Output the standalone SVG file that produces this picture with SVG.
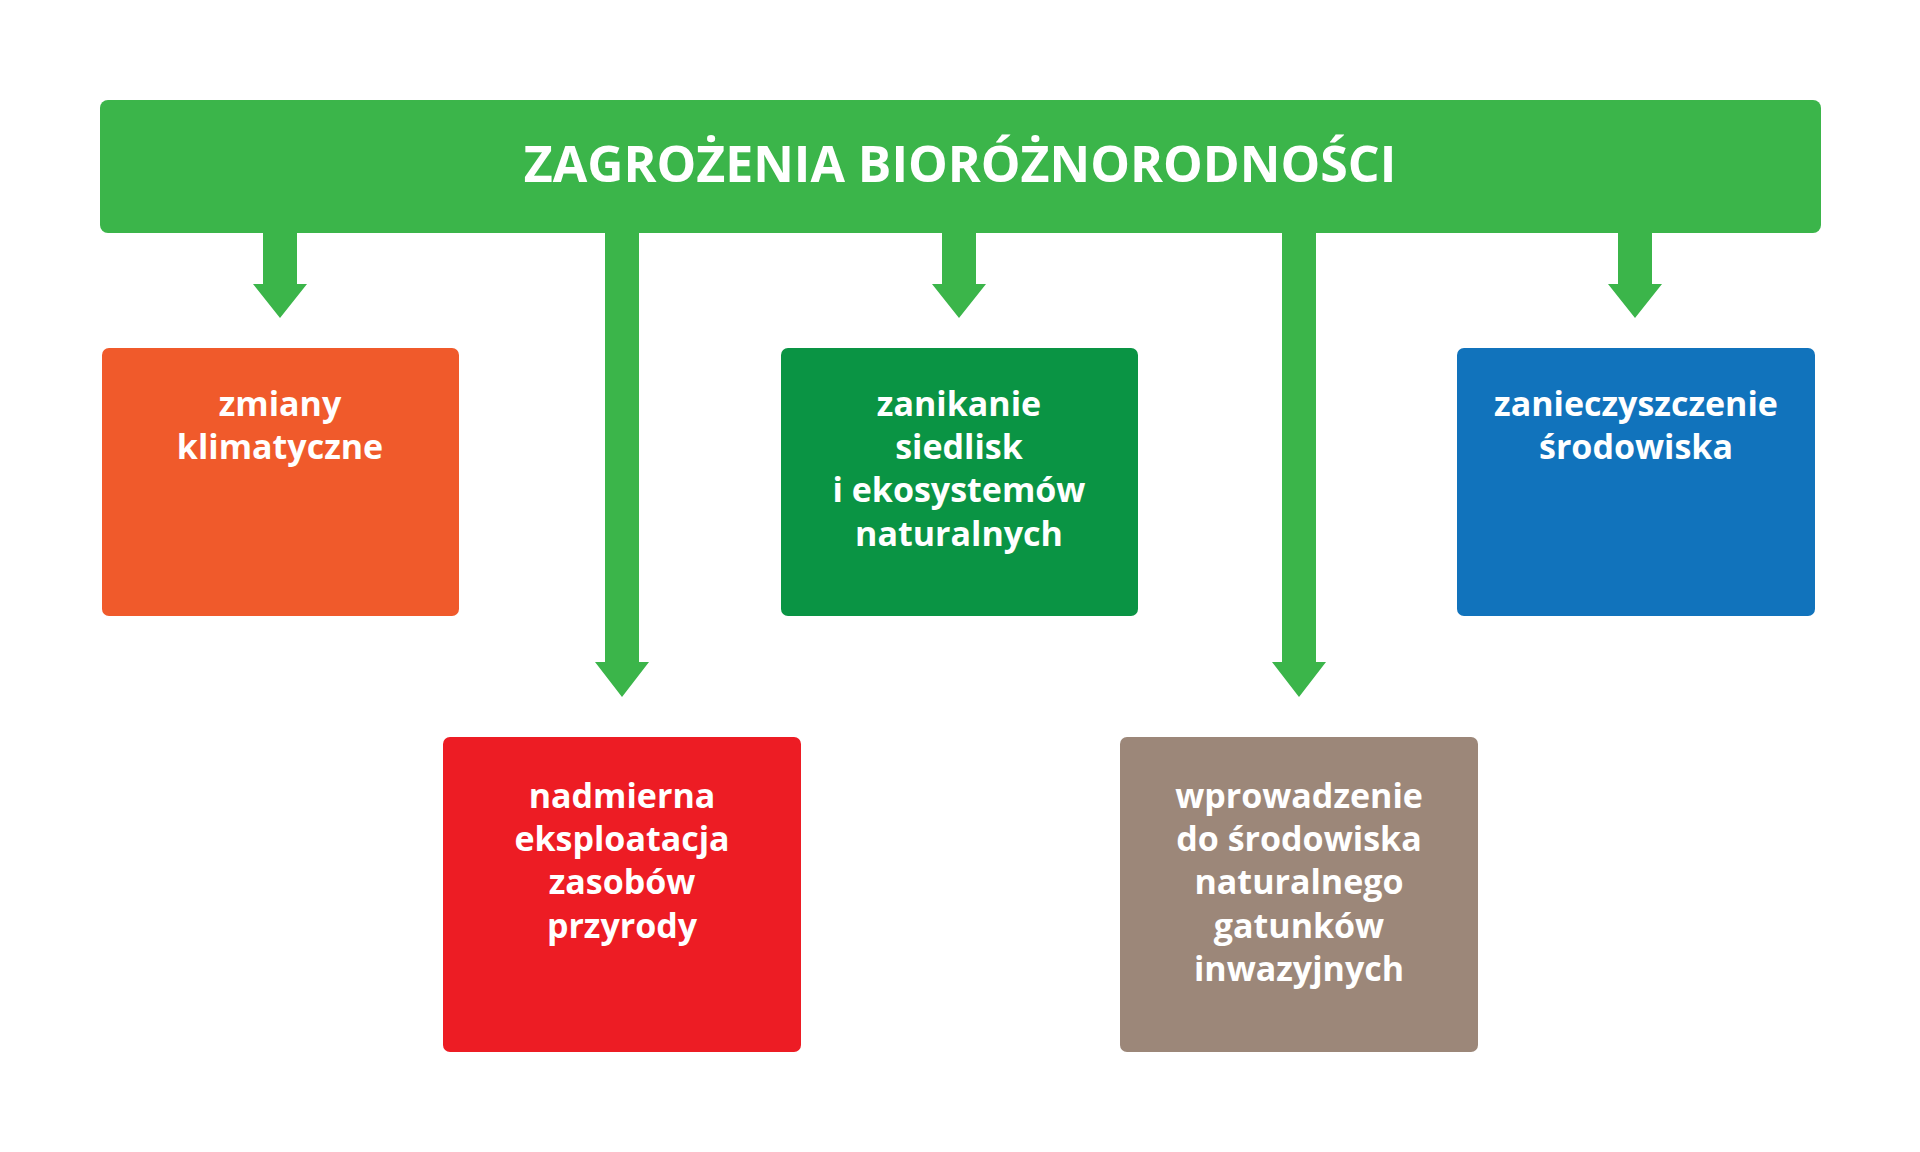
<svg xmlns="http://www.w3.org/2000/svg" width="1920" height="1152" viewBox="0 0 1920 1152">
<style>
.t{font-family:"Open Sans","Liberation Sans",sans-serif;font-weight:bold;fill:#fff;text-anchor:middle}
.b{font-size:34px}
.h{font-size:50px}
.a{fill:#3bb54a}
</style>
<rect width="1920" height="1152" fill="#fff"/>
<g id="header"><rect x="100" y="100" width="1721" height="133" rx="8" fill="#3bb54a"/><text class="t h" x="960" y="182">ZAGROŻENIA BIORÓŻNORODNOŚCI</text></g>
<g id="connectors">
<polygon class="a" points="263,230 297,230 297,284 307,284 280,318 253,284 263,284"/>
<polygon class="a" points="942,230 976,230 976,284 986,284 959,318 932,284 942,284"/>
<polygon class="a" points="1618,230 1652,230 1652,284 1662,284 1635,318 1608,284 1618,284"/>
<polygon class="a" points="605,230 639,230 639,662 649,662 622,697 595,662 605,662"/>
<polygon class="a" points="1282,230 1316,230 1316,662 1326,662 1299,697 1272,662 1282,662"/>
</g>
<g id="n1"><rect x="102" y="348" width="357" height="268" rx="7" fill="#f05a2b"/><text class="t b" x="280" y="416">zmiany</text><text class="t b" x="280" y="459">klimatyczne</text></g>
<g id="n2"><rect x="781" y="348" width="357" height="268" rx="7" fill="#0a9444"/><text class="t b" x="959" y="416">zanikanie</text><text class="t b" x="959" y="459">siedlisk</text><text class="t b" x="959" y="502">i ekosystemów</text><text class="t b" x="959" y="546">naturalnych</text></g>
<g id="n3"><rect x="1457" y="348" width="358" height="268" rx="7" fill="#1173bc"/><text class="t b" x="1636" y="416">zanieczyszczenie</text><text class="t b" x="1636" y="459">środowiska</text></g>
<g id="n4"><rect x="443" y="737" width="358" height="315" rx="7" fill="#ed1c24"/><text class="t b" x="622" y="808">nadmierna</text><text class="t b" x="622" y="851">eksploatacja</text><text class="t b" x="622" y="894">zasobów</text><text class="t b" x="622" y="938">przyrody</text></g>
<g id="n5"><rect x="1120" y="737" width="358" height="315" rx="7" fill="#9c8779"/><text class="t b" x="1299" y="808">wprowadzenie</text><text class="t b" x="1299" y="851">do środowiska</text><text class="t b" x="1299" y="894">naturalnego</text><text class="t b" x="1299" y="938">gatunków</text><text class="t b" x="1299" y="981">inwazyjnych</text></g>
</svg>
